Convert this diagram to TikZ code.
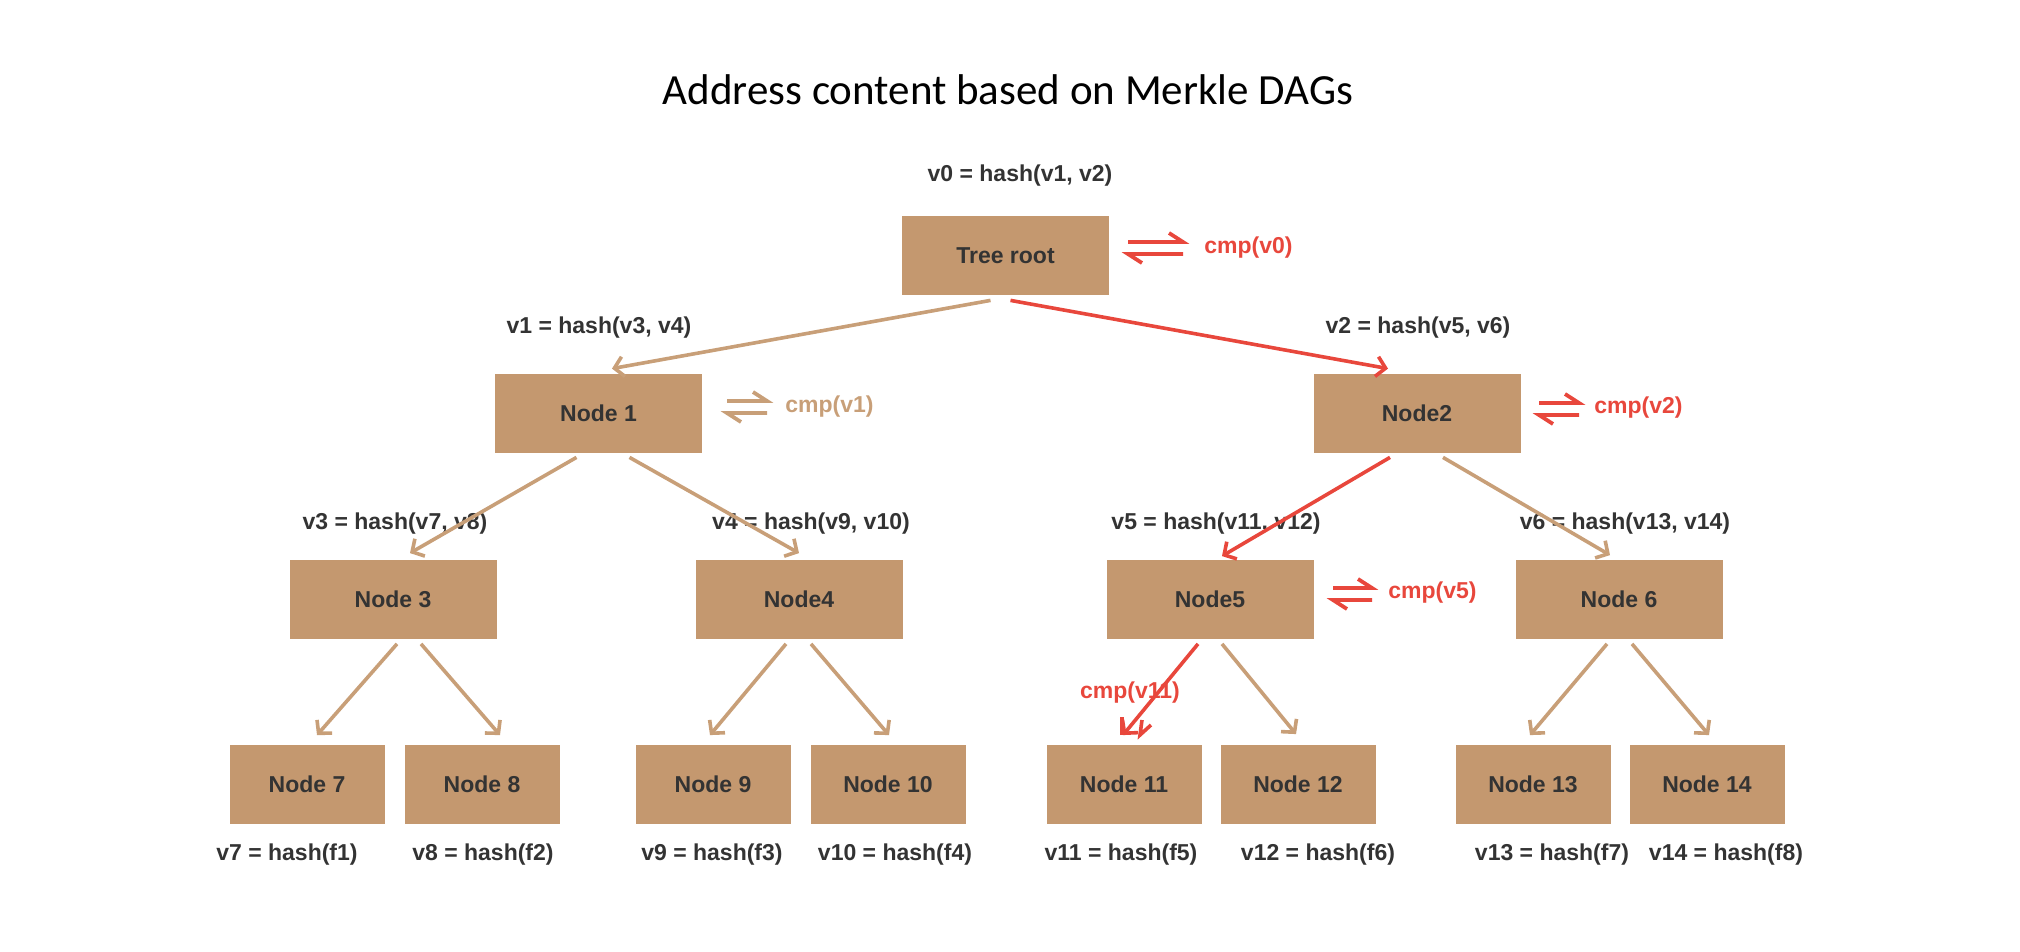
\documentclass[tikz,border=0pt]{standalone}
\usepackage{fontspec}
\setmainfont{Liberation Sans}
\newfontfamily\titlefont{Carlito}
\usetikzlibrary{arrows.meta,calc}
\definecolor{boxtan}{HTML}{C4986F}
\definecolor{linetan}{HTML}{C89F78}
\definecolor{cmpred}{HTML}{E8473C}
\definecolor{txt}{HTML}{333333}
\newcommand\drawharp[4]{%
  \draw[#4, line width=1.9pt] (#1,#2) -- ++(#3,0) -- ++(-14,-9);
  \draw[#4, line width=1.9pt] (#1+14,#2+21) -- (#1,#2+12) -- ++(#3,0);
}
\begin{document}
\begin{tikzpicture}[x=0.5pt,y=-0.5pt,
  box/.style={fill=boxtan, draw=none, minimum width=103.5pt, minimum height=39.5pt,
    inner sep=0pt, font=\fontsize{11.5}{13}\selectfont\bfseries, text=txt},
  leaf/.style={box, minimum width=77.5pt},
  lab/.style={font=\fontsize{11.5}{13}\selectfont\bfseries, text=txt, inner sep=0pt},
  redlab/.style={lab, text=cmpred},
  tanlab/.style={lab, text=linetan},
  tanarr/.style={draw=linetan, line width=1.8pt, -{Straight Barb[length=4.5pt,width=10pt]}},
  redarr/.style={tanarr, draw=cmpred},
]
\path[use as bounding box] (0,0) rectangle (2020,952);

\node[font=\titlefont\fontsize{21.5}{26}\selectfont, inner sep=0pt] (title) at (1008,90) {Address content based on Merkle DAGs};

% boxes
\node[box] (root) at (1005.5,255.5) {Tree root};
\node[box] (n1) at (598.5,413.5) {Node 1};
\node[box] (n2) at (1417,413.5) {Node2};
\node[box] (n3) at (393,599) {Node 3};
\node[box] (n4) at (799,599) {Node4};
\node[box] (n5) at (1210,599) {Node5};
\node[box] (n6) at (1619,599) {Node 6};
\node[leaf] (n7) at (307,784) {Node 7};
\node[leaf] (n8) at (482,784) {Node 8};
\node[leaf] (n9) at (713,784) {Node 9};
\node[leaf] (n10) at (888,784) {Node 10};
\node[leaf] (n11) at (1124,784) {Node 11};
\node[leaf] (n12) at (1298,784) {Node 12};
\node[leaf] (n13) at (1533,784) {Node 13};
\node[leaf] (n14) at (1707,784) {Node 14};

% hash labels
\node[lab] (l0) at (1020,176) {v0 = hash(v1, v2)};
\node[lab] (l1) at (599,328) {v1 = hash(v3, v4)};
\node[lab] (l2) at (1418,328) {v2 = hash(v5, v6)};
\node[lab] (l3) at (395,524) {v3 = hash(v7, v8)};
\node[lab] (l4) at (811,524) {v4 = hash(v9, v10)};
\node[lab] (l5) at (1216,524) {v5 = hash(v11, v12)};
\node[lab] (l6) at (1625,524) {v6 = hash(v13, v14)};
\node[lab] (l7) at (287,855) {v7 = hash(f1)};
\node[lab] (l8) at (483,855) {v8 = hash(f2)};
\node[lab] (l9) at (712,855) {v9 = hash(f3)};
\node[lab] (l10) at (895,855) {v10 = hash(f4)};
\node[lab] (l11) at (1121,855) {v11 = hash(f5)};
\node[lab] (l12) at (1318,855) {v12 = hash(f6)};
\node[lab] (l13) at (1552,855) {v13 = hash(f7)};
\node[lab] (l14) at (1726,855) {v14 = hash(f8)};

% cmp labels and harpoons
\drawharp{1128}{242}{55}{cmpred}
\node[redlab, anchor=west] (c0) at (1204,248) {cmp(v0)};
\drawharp{727}{401}{40}{linetan}
\node[tanlab, anchor=west] (c1) at (785,407) {cmp(v1)};
\drawharp{1539}{403}{40}{cmpred}
\node[redlab, anchor=west] (c2) at (1594,408) {cmp(v2)};
\drawharp{1333}{588}{39}{cmpred}
\node[redlab, anchor=west] (c5) at (1388,593) {cmp(v5)};

% connectors
\draw[tanarr] ($(root.south)+(-15,5)$) -- ($(n1.north)+(13.5,-5)$);
\draw[redarr] ($(root.south)+(5,5)$) -- ($(n2.north)+(-29,-5)$);
\draw[tanarr] ($(n1.south)+(-22,4)$) -- ($(n3.north)+(17,-6)$);
\draw[tanarr] ($(n1.south)+(31,4)$) -- ($(n4.north)+(0,-6)$);
\draw[redarr] ($(n2.south)+(-27,4)$) -- ($(n5.north)+(12,-3)$);
\draw[tanarr] ($(n2.south)+(26,4)$) -- ($(n6.north)+(-9,-4)$);
\draw[tanarr] ($(n3.south)+(4,5)$) -- ($(n7.north)+(10,-9)$);
\draw[tanarr] ($(n3.south)+(28,5)$) -- ($(n8.north)+(18,-9)$);
\draw[tanarr] ($(n4.south)+(-13,5)$) -- ($(n9.north)+(-3,-9)$);
\draw[tanarr] ($(n4.south)+(12,5)$) -- ($(n10.north)+(1,-9)$);
\draw[redarr] ($(n5.south)+(-12,5)$) -- ($(n11.north)+(-1,-9)$);
\draw[tanarr] ($(n5.south)+(12,5)$) -- ($(n12.north)+(-2,-10)$);
\draw[tanarr] ($(n6.south)+(-12,5)$) -- ($(n13.north)+(-3,-9)$);
\draw[tanarr] ($(n6.south)+(13,5)$) -- ($(n14.north)+(2,-9)$);

% extra harpoon marks near node 11
\draw[cmpred, line width=1.8pt] (1122,717) -- (1122,735);
\draw[cmpred, line width=1.8pt] (1142,720) -- (1140,735) -- (1151,725);
\node[redlab] (c11) at (1130,693) {cmp(v11)};
\end{tikzpicture}
\end{document}
